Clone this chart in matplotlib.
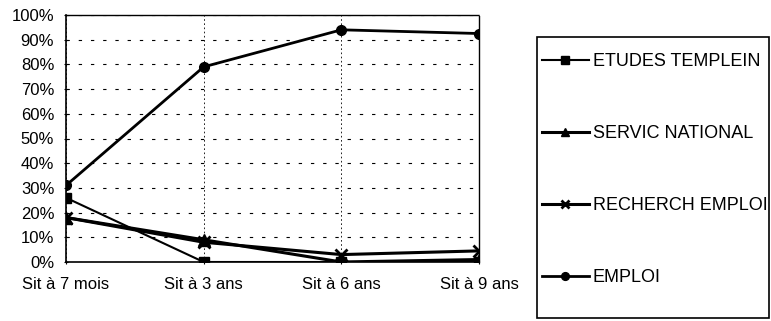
import matplotlib.pyplot as plt
from matplotlib.patches import Rectangle
from matplotlib.ticker import PercentFormatter

plt.rcParams['font.family'] = ['Liberation Sans', 'DejaVu Sans']

# Data
categories = ["Sit à 7 mois", "Sit à 3 ans", "Sit à 6 ans", "Sit à 9 ans"]
etudes = [26, 0, 0, 0]
servic = [18, 9, 0, 1]
recherch = [18, 8, 3, 4.5]
emploi = [31, 79, 94, 92.5]
y_ticks = list(range(0, 101, 10))

fig = plt.figure(figsize=(7.71, 3.21), dpi=100)
ax = fig.add_axes([66 / 771, 59 / 321, 413 / 771, 247 / 321])

x = range(len(categories))
ax.plot(x, etudes, color='black', lw=1.5, marker='s', ms=7, label="ETUDES TEMPLEIN")
ax.plot(x, servic, color='black', lw=2.2, marker='^', ms=8, label="SERVIC NATIONAL")
ax.plot(x, recherch, color='black', lw=2.2, marker='x', ms=8, mew=2, label="RECHERCH EMPLOI")
ax.plot(x, emploi, color='black', lw=2, marker='o', ms=7, label="EMPLOI")

ax.set_xlim(0, len(categories) - 1)
ax.set_ylim(0, 100)
ax.set_yticks(y_ticks)
ax.yaxis.set_major_formatter(PercentFormatter(decimals=0))
ax.set_xticks(list(x))
ax.set_xticklabels(categories)
ax.tick_params(axis='both', labelsize=12, colors='black', length=3, direction='inout')
ax.tick_params(axis='x', pad=9)
ax.tick_params(axis='y', pad=7)

# gridlines: dashed horizontal, dotted vertical
ax.grid(axis='y', color='black', linestyle=(0, (3, 8)), lw=0.8)
ax.grid(axis='x', color='black', linestyle=(0, (2, 3)), lw=0.6)
ax.set_axisbelow(True)
for side in ['top', 'right']:
    ax.spines[side].set_linestyle((0, (1, 1)))
    ax.spines[side].set_linewidth(1)
ax.spines['left'].set_linewidth(1.2)
ax.spines['bottom'].set_linewidth(1.2)

# legend box
fig.patches.append(Rectangle((537 / 771, 3 / 321), 232 / 771, 281 / 321,
                             transform=fig.transFigure, fill=False,
                             edgecolor='black', lw=1.2))
handles, labels = ax.get_legend_handles_labels()
fig.legend(handles, labels, loc='upper left', bbox_to_anchor=(542 / 771, 1 - 53 / 321),
           frameon=False, fontsize=13, labelspacing=3.05, handlelength=2.6,
           handletextpad=0.2, borderaxespad=0, borderpad=0, markerscale=0.8)

fig.savefig("out.png", dpi=100)
